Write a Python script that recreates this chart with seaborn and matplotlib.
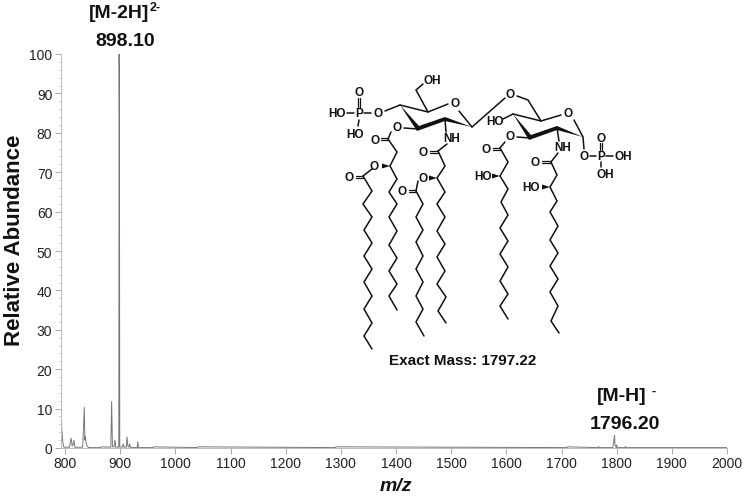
import matplotlib
matplotlib.use('Agg')
import matplotlib.pyplot as plt
from matplotlib.patches import Polygon
from matplotlib.ticker import MultipleLocator
import seaborn as sns

# spectrum profile
mz = [792, 793, 794, 796, 798, 808, 811, 813, 815, 816, 818, 832, 835, 836, 837, 838, 840, 843,
      865, 866, 883, 884.5, 886, 889, 890.5, 892, 897.5, 898.1, 898.6, 899.2, 904, 905.5, 907,
      911, 912.5, 914, 916, 917, 919, 931, 932, 933, 960, 961, 1040, 1041, 1290, 1291, 1710,
      1711, 1766, 1767, 1768, 1793, 1796.2, 1797, 1799, 1800, 1801, 1815, 1816, 1817, 2000]
abundance = [13.5, 13, 5, 1.5, 0.2, 0.2, 2.5, 0.5, 1, 2, 0.2, 0.2, 10.3, 2, 3, 1.5, 0.5, 0.1,
             0.1, 0.3, 0.2, 11.8, 0.3, 0.3, 2, 0.2, 0.2, 100, 84, 0.3, 0.2, 1, 0.2,
             0.2, 2.8, 0.4, 0.2, 1, 0.1, 0.1, 1.6, 0.1, 0.1, 0.3, 0.1, 0.3, 0.1, 0.3, 0.1,
             0.3, 0.1, 0.4, 0.1, 0.1, 3.2, 0.8, 0.1, 0.8, 0.1, 0.1, 0.4, 0.1, 0.1]
x_ticks = list(range(800, 2001, 100))
y_ticks = list(range(0, 101, 10))

# structure drawing, in picture pixels
chains = [
    [(388, 140), (397, 153), (390, 167), (397, 180), (389, 193), (397, 205), (389, 218), (397, 232),
     (389, 246), (397, 259), (389, 272), (397, 285), (389, 297), (397, 311)],
    [(363, 177), (372, 192), (363, 205), (372, 218), (364, 231), (372, 244), (364, 257), (372, 270),
     (364, 283), (372, 297), (364, 310), (372, 324), (364, 337), (372, 350)],
    [(416, 192), (423, 205), (416, 218), (423, 231), (416, 243), (423, 257), (416, 270), (423, 283),
     (416, 297), (423, 310), (416, 323), (424, 337)],
    [(438, 152), (445, 167), (437, 179), (445, 193), (437, 205), (445, 218), (437, 232), (445, 245),
     (437, 258), (445, 272), (437, 285), (446, 298), (438, 312), (446, 324)],
    [(500, 149), (508, 163), (500, 177), (508, 190), (501, 203), (508, 216), (500, 229), (508, 242),
     (500, 255), (508, 268), (500, 282), (508, 295), (500, 307), (508, 320)],
    [(551, 163), (557, 176), (550, 188), (557, 202), (550, 213), (558, 227), (550, 241), (558, 254),
     (550, 267), (558, 280), (550, 293), (558, 307), (551, 322), (559, 334)],
]
bonds = [
    [(400, 106), (428, 113), (448, 105)], [(459, 112), (472, 128)], [(428, 113), (416, 91), (423, 85)],
    [(385, 112), (400, 106)], [(347, 114), (354, 114)], [(364, 114), (371, 114)], [(359, 121), (358, 127)],
    [(418, 130), (404, 129)], [(391, 133), (388, 140)], [(445, 120), (446, 133)], [(447, 145), (438, 152)],
    [(372, 170), (363, 177)], [(418, 182), (416, 192)],
    [(472, 128), (505, 99)], [(517, 97), (528, 101), (541, 122)], [(513, 115), (541, 122), (561, 116)],
    [(574, 121), (583, 138), (584, 150)], [(513, 115), (503, 120)], [(530, 139), (517, 138)],
    [(505, 143), (500, 149)], [(557, 129), (559, 142)], [(558, 154), (551, 163)],
    [(590, 157), (596, 157)], [(606, 157), (613, 157)], [(601, 163), (601, 168)],
]
double_bonds = [
    [(359, 99), (359, 108)], [(381, 140), (388, 140)], [(356, 178), (363, 178)], [(430, 153), (438, 153)],
    [(409, 192), (416, 192)], [(493, 150), (500, 150)], [(542, 163), (551, 163)], [(601, 144), (601, 151)],
]
bold_bonds = [
    [(400, 106), (419, 127), (445, 118), (472, 128), (445, 122), (417, 132)],
    [(513, 115), (531, 136), (557, 127), (583, 138), (557, 131), (529, 141)],
]
wedges = [
    [(390, 167), (382, 164.5), (382, 169.5)], [(437, 179), (429, 176.5), (429, 181.5)],
    [(500, 177), (492, 174.5), (492, 179.5)], [(550, 188), (542, 185.5), (542, 190.5)],
]
atom_labels = [
    ('OH', 432, 81), ('O', 455, 104), ('O', 378, 114), ('P', 359, 114), ('HO', 337, 114), ('O', 359, 93),
    ('HO', 355, 135), ('O', 397, 128), ('O', 375, 141), ('O', 374, 167), ('O', 349, 178), ('NH', 452, 139),
    ('O', 423, 153), ('O', 423, 179), ('O', 402, 192), ('O', 510, 95), ('O', 568, 114), ('HO', 495, 122),
    ('O', 510, 137), ('O', 486, 150), ('HO', 483, 177), ('NH', 563, 148), ('O', 535, 163), ('HO', 531, 188),
    ('O', 584, 157), ('P', 601, 157), ('O', 601, 139), ('OH', 623, 157), ('OH', 605, 175),
]

sns.set_theme(style='ticks')
plt.rcParams['font.family'] = ['Liberation Sans', 'DejaVu Sans']

W, H = 754, 502
fig = plt.figure(figsize=(W / 100, H / 100), dpi=100)
ax = fig.add_axes([60.6 / W, (H - 449) / H, (727 - 60.6) / W, 394 / H])

sns.lineplot(x=mz, y=abundance, sort=False, estimator=None, color='#777777', linewidth=0.7, ax=ax)

ax.set_xlim(792, 2000)
ax.set_ylim(0, 100)
ax.set_xticks(x_ticks)
ax.set_yticks(y_ticks)
ax.yaxis.set_minor_locator(MultipleLocator(2))
ax.tick_params(axis='both', which='major', labelsize=10, length=4, width=0.7, color='#aaaaaa',
               labelcolor='#222222', pad=2)
ax.tick_params(axis='y', which='minor', length=2.5, width=0.6, color='#cccccc')
sns.despine(ax=ax)
for side in ['left', 'bottom']:
    ax.spines[side].set_color('#bbbbbb')
    ax.spines[side].set_linewidth(0.7)
ax.set_xlabel('')
ax.set_ylabel('')

# overlay in pixel coordinates for the labels and the molecule
ov = fig.add_axes([0, 0, 1, 1])
ov.set_xlim(0, W)
ov.set_ylim(H, 0)
ov.axis('off')
ov.patch.set_alpha(0)

for line in chains + bonds:
    ov.plot([p[0] for p in line], [p[1] for p in line], color='#111111', lw=1.1, solid_joinstyle='miter', zorder=2)
for (x0, y0), (x1, y1) in double_bonds:
    dx, dy = (1.3, 0) if x0 == x1 else (0, 1.3)
    for s in [-1, 1]:
        ov.plot([x0 + s * dx, x1 + s * dx], [y0 + s * dy, y1 + s * dy], color='#111111', lw=0.9, zorder=2)
for shape in bold_bonds + wedges:
    ov.add_patch(Polygon(shape, closed=True, color='#111111', lw=0, zorder=2))
for label, x, y in atom_labels:
    ov.text(x, y, label, ha='center', va='center', fontsize=8.5, fontweight='bold', color='#111111', zorder=3)

ov.text(463, 361, 'Exact Mass: 1797.22', ha='center', va='center', fontsize=11, fontweight='bold', color='#111111')
ov.text(119, 13, '[M-2H]', ha='center', va='center', fontsize=14, fontweight='bold', color='#111111')
ov.text(150, 8, '2-', ha='left', va='center', fontsize=9, fontweight='bold', color='#111111')
ov.text(125, 41, '898.10', ha='center', va='center', fontsize=14, fontweight='bold', color='#111111')
ov.text(622, 397, '[M-H]', ha='center', va='center', fontsize=14, fontweight='bold', color='#111111')
ov.text(651, 392, '-', ha='left', va='center', fontsize=9, fontweight='bold', color='#111111')
ov.text(625, 425, '1796.20', ha='center', va='center', fontsize=14, fontweight='bold', color='#111111')
ov.text(15, 240, 'Relative Abundance', rotation=90, ha='center', va='center', fontsize=16, fontweight='bold', color='#111111')
ov.text(396, 487, 'm/z', ha='center', va='center', fontsize=14, fontweight='bold', style='italic', color='#111111')

fig.savefig('out.png', dpi=100)
